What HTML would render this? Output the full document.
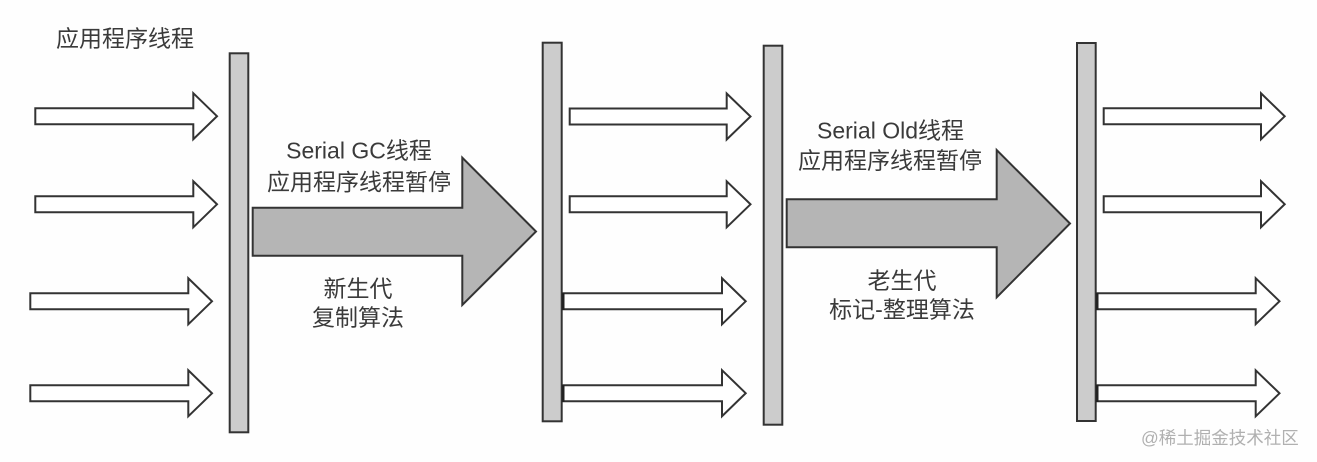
<!DOCTYPE html>
<html>
<head>
<meta charset="utf-8">
<style>
  html, body { margin: 0; padding: 0; background: #ffffff; }
  body { width: 1317px; height: 462px; overflow: hidden; }
  svg { display: block; }
  text { font-family: "Liberation Sans", "Noto Sans CJK SC", sans-serif; fill: #3a3a3a; }
</style>
</head>
<body>
<svg width="1317" height="462" viewBox="0 0 1317 462" xmlns="http://www.w3.org/2000/svg">
  <rect x="0" y="0" width="1317" height="462" fill="#fefefe"/>

  <!-- Bars -->
  <g fill="#cccccc" stroke="#333333" stroke-width="2">
    <rect x="229.7" y="53.3" width="18.6" height="379"/>
    <rect x="542.7" y="42.7" width="19" height="378.6"/>
    <rect x="763.7" y="45.7" width="18.6" height="379"/>
    <rect x="1077" y="43" width="18.7" height="378"/>
  </g>

  <!-- Small hollow arrows -->
  <g fill="#ffffff" stroke="#333333" stroke-width="2" stroke-linejoin="miter">
    <!-- column 1 -->
    <path d="M35.3,108.2 H193.3 V93.2 L217,116.2 L193.3,139.2 V124.2 H35.3 Z"/>
    <path d="M35.3,196.3 H193.3 V181.3 L217,204.3 L193.3,227.3 V212.3 H35.3 Z"/>
    <path d="M30.3,293.3 H188.3 V278.3 L212,301.3 L188.3,324.3 V309.3 H30.3 Z"/>
    <path d="M30.3,385.3 H188.3 V370.3 L212,393.3 L188.3,416.3 V401.3 H30.3 Z"/>
    <!-- column 2 -->
    <path d="M569.7,108.5 H726.7 V93.5 L750.5,116.5 L726.7,139.5 V124.5 H569.7 Z"/>
    <path d="M569.7,196.3 H726.7 V181.3 L750.5,204.3 L726.7,227.3 V212.3 H569.7 Z"/>
    <path d="M563,293.3 H722 V278.3 L745.7,301.3 L722,324.3 V309.3 H563 Z"/>
    <path d="M563,385.2 H722 V370.2 L745.7,393.2 L722,416.2 V401.2 H563 Z"/>
    <!-- column 3 -->
    <path d="M1103.7,108.3 H1261 V93.3 L1284.7,116.3 L1261,139.3 V124.3 H1103.7 Z"/>
    <path d="M1103.7,196.2 H1261 V181.2 L1284.7,204.2 L1261,227.2 V212.2 H1103.7 Z"/>
    <path d="M1097,293.2 H1255.7 V278.2 L1279.5,301.2 L1255.7,324.2 V309.2 H1097 Z"/>
    <path d="M1097,385.3 H1255.7 V370.3 L1279.5,393.3 L1255.7,416.3 V401.3 H1097 Z"/>
  </g>
  <!-- thick joins at bar edges -->
  <g fill="#222222">
    <rect x="562" y="293" width="2.5" height="17"/>
    <rect x="562" y="385" width="2.5" height="17"/>
    <rect x="1096" y="293" width="2.5" height="17"/>
    <rect x="1096" y="385" width="2.5" height="17"/>
  </g>

  <!-- Big gray arrows -->
  <g fill="#b5b5b5" stroke="#333333" stroke-width="2" stroke-linejoin="miter">
    <path d="M252.7,207.7 H462.3 V157.7 L536,231.5 L462.3,305 V255.7 H252.7 Z"/>
    <path d="M786.7,199.3 H996.7 V150 L1070,223.5 L996.7,297.3 V247.3 H786.7 Z"/>
  </g>

  <!-- Labels -->
  <text x="56" y="46.5" font-size="23">应用程序线程</text>

  <g font-size="23" text-anchor="middle">
    <text x="359" y="158.5">Serial GC线程</text>
    <text x="359" y="190">应用程序线程暂停</text>
    <text x="358" y="296.5">新生代</text>
    <text x="358" y="325.5">复制算法</text>

    <text x="890.5" y="138.5">Serial Old线程</text>
    <text x="890" y="168.5">应用程序线程暂停</text>
    <text x="902" y="288.5">老生代</text>
    <text x="902" y="317.5">标记-整理算法</text>
  </g>

  <text x="1141" y="444" font-size="17.5" style="fill:#b0b0b0">@稀土掘金技术社区</text>
</svg>
</body>
</html>
